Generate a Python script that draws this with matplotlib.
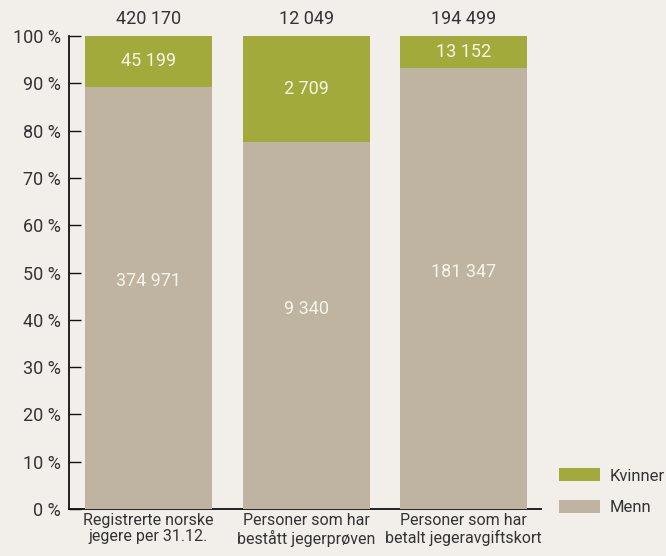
import matplotlib.pyplot as plt
import numpy as np

plt.rcParams['font.family'] = ['Roboto', 'DejaVu Sans']

# data
categories = ['Registrerte norske\njegere per 31.12.',
              'Personer som har\nbestått jegerprøven',
              'Personer som har\nbetalt jegeravgiftskort']
menn = np.array([374971, 9340, 181347])
kvinner = np.array([45199, 2709, 13152])
totals = menn + kvinner

def fmt(v):
    return f'{v:,}'.replace(',', ' ')

bg = '#f2efea'
green = '#a3aa3c'
tan = '#bfb4a1'
txt = '#333333'

fig = plt.figure(figsize=(6.66, 5.56), dpi=100, facecolor=bg)
ax = fig.add_axes([0.1036, 0.0845, 0.7087, 0.8507])
ax.set_facecolor(bg)

x = np.arange(len(categories))
pm = menn / totals * 100
pk = kvinner / totals * 100

ax.bar(x, pm, width=0.806, color=tan, zorder=3, label='Menn')
ax.bar(x, pk, bottom=pm, width=0.806, color=green, zorder=3, label='Kvinner')

for i in range(len(x)):
    ax.text(x[i], pm[i] / 2 + 3.5, fmt(menn[i]), ha='center', va='center',
            color='#f6f3e8', fontsize=13, zorder=4)
    ax.text(x[i], pm[i] + pk[i] / 2, fmt(kvinner[i]), ha='center', va='center',
            color='#f6f3e8', fontsize=13, zorder=4)
    ax.text(x[i], 103.6, fmt(totals[i]), ha='center', va='center',
            color=txt, fontsize=13, clip_on=False)

ax.set_xlim(-0.505, 2.49)
ax.set_ylim(0, 100)
ax.set_yticks(np.arange(0, 101, 10))
ax.set_yticklabels([f'{v} %' for v in range(0, 101, 10)])
ax.set_xticks(x)
ax.set_xticklabels(categories, linespacing=1.1)

ax.tick_params(axis='y', direction='in', length=8.5, width=1, colors='#111111',
               labelcolor=txt, labelsize=13, pad=6)
ax.tick_params(axis='x', length=0, labelcolor=txt, labelsize=11.5, pad=3)

for s in ['top', 'right']:
    ax.spines[s].set_visible(False)
for s in ['left', 'bottom']:
    ax.spines[s].set_color('#111111')
    ax.spines[s].set_linewidth(1.3)

h, l = ax.get_legend_handles_labels()
leg = fig.legend(h[::-1], l[::-1], loc='lower left', bbox_to_anchor=(0.839, 0.073),
                 frameon=False, fontsize=12, handlelength=2.45, handleheight=0.8,
                 labelspacing=1.0, handletextpad=0.62, borderpad=0, borderaxespad=0)
for t in leg.get_texts():
    t.set_color(txt)

fig.savefig('out.png', dpi=100, facecolor=bg)
